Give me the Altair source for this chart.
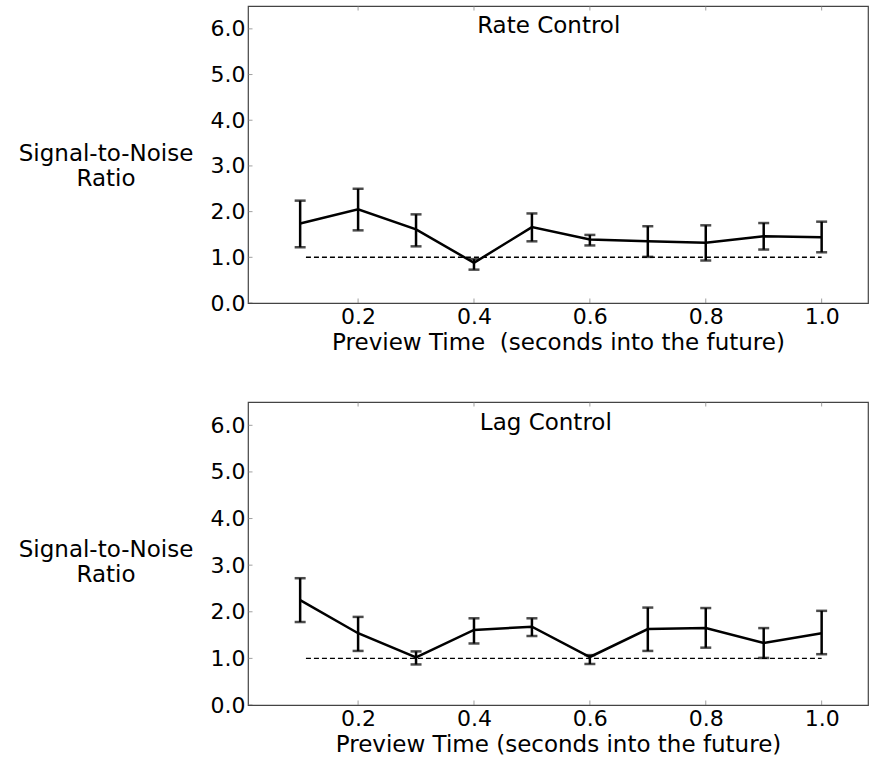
import altair as alt
import pandas as pd

# ---------------- data ----------------
preview_time = [0.1, 0.2, 0.3, 0.4, 0.5, 0.6, 0.7, 0.8, 0.9, 1.0]

rate_mean = [1.74, 2.05, 1.61, 0.88, 1.66, 1.39, 1.35, 1.32, 1.46, 1.44]
rate_hi = [2.24, 2.50, 1.94, 0.96, 1.96, 1.49, 1.68, 1.70, 1.75, 1.78]
rate_lo = [1.22, 1.59, 1.24, 0.73, 1.35, 1.26, 1.01, 0.93, 1.17, 1.11]

lag_mean = [2.25, 1.54, 1.02, 1.61, 1.68, 1.03, 1.63, 1.65, 1.33, 1.54]
lag_hi = [2.72, 1.89, 1.15, 1.86, 1.86, 1.07, 2.09, 2.08, 1.65, 2.02]
lag_lo = [1.78, 1.16, 0.87, 1.32, 1.48, 0.88, 1.16, 1.23, 1.01, 1.09]

ref_level = [1.0]
ref_start = [0.11]
ref_end = [1.0]

x_ticks = [0.2, 0.4, 0.6, 0.8, 1.0]
y_ticks = [0.0, 1.0, 2.0, 3.0, 4.0, 5.0, 6.0]
x_domain = [0.01, 1.08]
y_domain = [0.0, 6.5]

panel_names = ["Rate Control", "Lag Control"]
panel_label_x = [0.529, 0.524]
panel_label_y = [6.06, 6.06]
x_titles = ["Preview Time\u00a0 (seconds into the future)",
            "Preview Time (seconds into the future)"]
y_title = ["Signal-to-Noise", "Ratio"]

FONT = "DejaVu Sans"


def panel(mean, lo, hi, name, lx, ly, xtitle, height):
    df = pd.DataFrame({"t": preview_time, "m": mean, "lo": lo, "hi": hi})
    xs = alt.Scale(domain=x_domain, nice=False, zero=False)
    ys = alt.Scale(domain=y_domain, nice=False, zero=False)
    xaxis = alt.Axis(values=x_ticks, format=".1f", title=xtitle, ticks=False,
                     grid=False, domain=False, labelPadding=3, titlePadding=4)
    yaxis = alt.Axis(values=y_ticks, format=".1f", title=y_title, ticks=False,
                     grid=False, domain=False, labelPadding=3,
                     titleAngle=0, titleX=-142.5, titleY=147,
                     titleAlign="center", titleBaseline="middle",
                     titleLineHeight=25)
    base = alt.Chart(df)
    line = base.mark_line(color="black", strokeWidth=2.5).encode(
        x=alt.X("t:Q", scale=xs, axis=xaxis),
        y=alt.Y("m:Q", scale=ys, axis=yaxis),
    )
    bars = base.mark_rule(color="black", strokeWidth=2.5).encode(
        x="t:Q", y="lo:Q", y2="hi:Q")
    cap_lo = base.mark_tick(color="black", orient="horizontal", size=11,
                            thickness=2.5).encode(x="t:Q", y="lo:Q")
    cap_hi = base.mark_tick(color="black", orient="horizontal", size=11,
                            thickness=2.5).encode(x="t:Q", y="hi:Q")
    ref = alt.Chart(pd.DataFrame({"t": ref_start, "t2": ref_end, "m": ref_level})).mark_rule(
        color="black", strokeDash=[5, 3], strokeWidth=1.4).encode(
        x="t:Q", x2="t2:Q", y="m:Q")
    label = alt.Chart(pd.DataFrame({"t": [lx], "m": [ly], "s": [name]})).mark_text(
        font=FONT, fontSize=23, color="black", baseline="middle", align="center").encode(
        x="t:Q", y="m:Q", text="s:N")
    ytk = alt.Chart(pd.DataFrame({"t": [x_domain[0]] * len(y_ticks), "m": y_ticks})).mark_tick(
        orient="horizontal", size=9, thickness=1, color="#777", clip=True).encode(
        x="t:Q", y="m:Q")
    xtk_b = alt.Chart(pd.DataFrame({"t": x_ticks, "m": [y_domain[0]] * len(x_ticks)})).mark_tick(
        orient="vertical", size=9, thickness=1, color="#777", clip=True).encode(
        x="t:Q", y="m:Q")
    xtk_t = alt.Chart(pd.DataFrame({"t": x_ticks, "m": [y_domain[1]] * len(x_ticks)})).mark_tick(
        orient="vertical", size=9, thickness=1, color="#777", clip=True).encode(
        x="t:Q", y="m:Q")
    return alt.layer(line, ytk, xtk_b, xtk_t, ref, bars, cap_lo, cap_hi, label).properties(
        width=620, height=height)


top = panel(rate_mean, rate_lo, rate_hi, panel_names[0], panel_label_x[0],
            panel_label_y[0], x_titles[0], 297)
bottom = panel(lag_mean, lag_lo, lag_hi, panel_names[1], panel_label_x[1],
               panel_label_y[1], x_titles[1], 303)

chart = alt.vconcat(top, bottom, spacing=46).properties(
    padding={"left": 17, "top": 5, "right": 0, "bottom": 0},
    background="white",
).configure_view(
    stroke="#444", strokeWidth=1.2
).configure_axis(
    labelFont=FONT, labelFontSize=22, labelColor="black",
    titleFont=FONT, titleFontSize=23, titleColor="black", titleFontWeight="normal",
)

chart.save("out.html", embed_options={"renderer": "svg", "actions": False})
